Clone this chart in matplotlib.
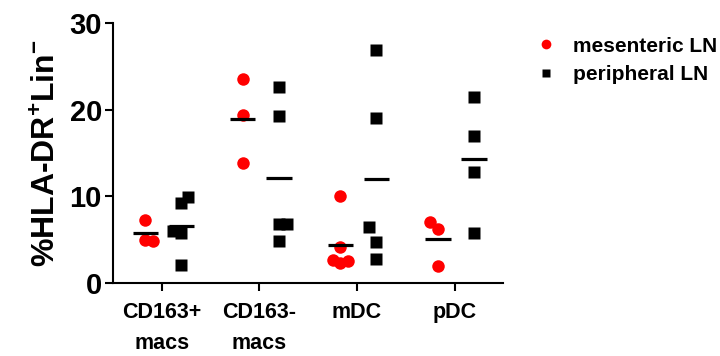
import numpy as np
import matplotlib
matplotlib.use('Agg')
import matplotlib.pyplot as plt
from matplotlib.lines import Line2D

plt.rcParams['font.family'] = ['Liberation Sans', 'DejaVu Sans']
plt.rcParams['font.weight'] = 'bold'
plt.rcParams['mathtext.fontset'] = 'custom'
plt.rcParams['mathtext.rm'] = 'Liberation Sans:bold'
plt.rcParams['mathtext.bf'] = 'Liberation Sans:bold'

categories = ['CD163+\nmacs', 'CD163-\nmacs', 'mDC', 'pDC']
mesenteric = [[7.3, 5.0, 4.9],
              [23.6, 19.4, 13.8],
              [10.1, 4.2, 2.7, 2.3, 2.5],
              [7.1, 6.2, 2.0]]
peripheral = [[9.9, 9.2, 6.0, 5.8, 2.1],
              [22.6, 19.3, 6.8, 6.8, 4.9],
              [26.9, 19.0, 6.5, 4.7, 2.8],
              [21.5, 17.0, 12.8, 5.8]]

# small horizontal scatter so overlapping points show (layout only)
mes_jit = [[0, 0, 0.08], [0, 0, 0], [0, 0, -0.08, 0, 0.08], [-0.08, 0, 0]]
per_jit = [[0.07, 0, -0.09, 0, 0], [0, 0, 0, 0.08, 0], [0, 0, -0.08, 0, 0], [0, 0, 0, 0]]

fig = plt.figure(figsize=(7.2, 3.56), dpi=100)
ax = fig.add_axes([0.157, 0.205, 0.542, 0.730])

off_m, off_p = -0.17, 0.20
for i in range(len(categories)):
    xm = i + off_m + np.array(mes_jit[i])
    xp = i + off_p + np.array(per_jit[i])
    ax.plot(xm, mesenteric[i], 'o', color='red', ms=9, mec='none', zorder=3)
    ax.plot(xp, peripheral[i], 's', color='black', ms=8, mec='none', zorder=3)
    ax.hlines(np.mean(mesenteric[i]), i + off_m - 0.13, i + off_m + 0.13, color='black', lw=2.3, zorder=4)
    ax.hlines(np.mean(peripheral[i]), i + off_p - 0.13, i + off_p + 0.13, color='black', lw=2.3, zorder=4)

ax.set_xlim(-0.5, 3.5)
ax.set_ylim(0, 30)
ax.set_yticks([0, 10, 20, 30])
ax.set_xticks(range(len(categories)))
ax.set_xticklabels(categories, fontsize=15.5, fontweight='bold', linespacing=1.6)
ax.tick_params(axis='y', labelsize=21, length=6, width=1.5, pad=2)
ax.tick_params(axis='x', length=6, width=1.5, pad=8)
for lab in ax.get_yticklabels():
    lab.set_fontweight('bold')
for s in ['top', 'right']:
    ax.spines[s].set_visible(False)
for s in ['left', 'bottom']:
    ax.spines[s].set_linewidth(1.5)

ax.set_ylabel(r'%HLA-DR$^\mathbf{+}$Lin$^\mathbf{-}$', fontsize=23, fontweight='bold', labelpad=5)

handles = [Line2D([], [], marker='o', color='red', ls='none', ms=7, mec='none'),
           Line2D([], [], marker='s', color='black', ls='none', ms=6, mec='none')]
fig.legend(handles, ['mesenteric LN', 'peripheral LN'], loc='upper left',
           bbox_to_anchor=(0.715, 0.95), frameon=False, prop={'size': 15, 'weight': 'bold'},
           handletextpad=0.7, labelspacing=0.45, handlelength=1.2)

fig.savefig('out.png', dpi=100)
